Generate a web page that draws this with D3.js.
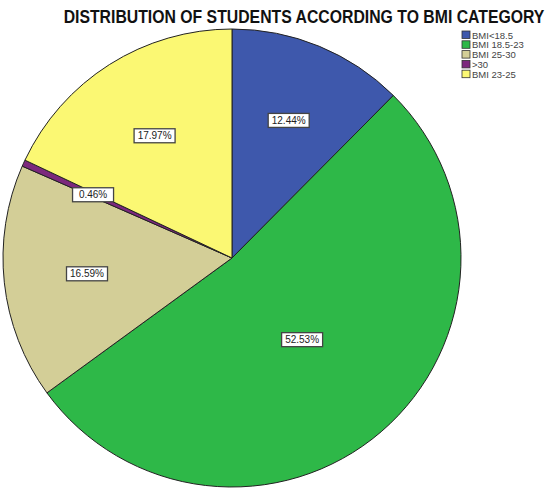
<!DOCTYPE html>
<html>
  <head>
    <title>BMI pie</title>
    <meta http-equiv="Content-Type" content="text/html; charset=UTF-8">
    <script src="https://d3js.org/d3.v7.min.js"></script>
    <style>
      body { margin: 0; background: #fff; }
      text { font-family: "Liberation Sans", Arial, sans-serif; }
    </style>
  </head>

  <body>
    <div id="chart"></div>

    <script>
      // slices in drawing order (clockwise from 12 o'clock)
      var categories = ["BMI<18.5", "BMI 18.5-23", "BMI 25-30", ">30", "BMI 23-25"];
      var percents = [12.44, 52.53, 16.59, 0.46, 17.97];
      var colors = ["#3e58ac", "#2eb848", "#d3ce97", "#7c287d", "#fbf873"];

      var width = 548, height = 488;
      var cx = 232, cy = 258, R = 229;

      var svg = d3.select("#chart").append("svg")
        .attr("width", width).attr("height", height);

      // title is a little condensed in the original, so stretch it vertically
      svg.append("text")
        .attr("transform", "translate(304,23) scale(1,1.12)")
        .attr("text-anchor", "middle")
        .attr("font-size", 15.8)
        .attr("font-weight", "bold")
        .attr("fill", "#111")
        .text("DISTRIBUTION OF STUDENTS ACCORDING TO BMI CATEGORY");

      var color = d3.scaleOrdinal().domain(categories).range(colors);

      var pie = d3.pie().sort(null).value(function (d) { return d.v; });
      var data = categories.map(function (c, i) { return { c: c, v: percents[i] }; });
      var arcs = pie(data);

      var arc = d3.arc().innerRadius(0).outerRadius(R);

      var g = svg.append("g").attr("transform", "translate(" + cx + "," + cy + ")");

      g.selectAll("path.slice")
        .data(arcs)
        .enter().append("path")
        .attr("class", "slice")
        .attr("d", arc)
        .attr("fill", function (d) { return color(d.data.c); })
        .attr("stroke", "#222")
        .attr("stroke-width", 1);

      // labels at the sector centroid
      var labels = g.selectAll("g.lab")
        .data(arcs)
        .enter().append("g")
        .attr("class", "lab")
        .attr("transform", function (d) {
          var a = (d.endAngle - d.startAngle) / 2;
          var m = (d.startAngle + d.endAngle) / 2;
          var r = a < 1e-3 ? R * 2 / 3 : R * 2 * Math.sin(a) / (3 * a);
          r = Math.max(r, R * 0.47);
          return "translate(" + (r * Math.sin(m)) + "," + (-r * Math.cos(m)) + ")";
        });

      labels.append("rect")
        .attr("x", -20.5).attr("y", -7)
        .attr("width", 41).attr("height", 14)
        .attr("fill", "#fff")
        .attr("stroke", "#444")
        .attr("stroke-width", 1.3);

      labels.append("text")
        .attr("text-anchor", "middle")
        .attr("y", 3.6)
        .attr("font-size", 10)
        .attr("fill", "#222")
        .text(function (d) { return d.data.v.toFixed(2) + "%"; });

      // legend
      var legend = svg.append("g").attr("transform", "translate(462,31)");
      var rows = legend.selectAll("g")
        .data(categories)
        .enter().append("g")
        .attr("transform", function (d, i) { return "translate(0," + (i * 9.8) + ")"; });

      rows.append("rect")
        .attr("width", 8).attr("height", 7.5)
        .attr("fill", function (d) { return color(d); })
        .attr("stroke", "#333").attr("stroke-width", 0.8);

      rows.append("text")
        .attr("x", 10).attr("y", 7.5)
        .attr("font-size", 9.5)
        .attr("fill", "#444")
        .text(function (d) { return d; });
    </script>
  </body>
</html>
